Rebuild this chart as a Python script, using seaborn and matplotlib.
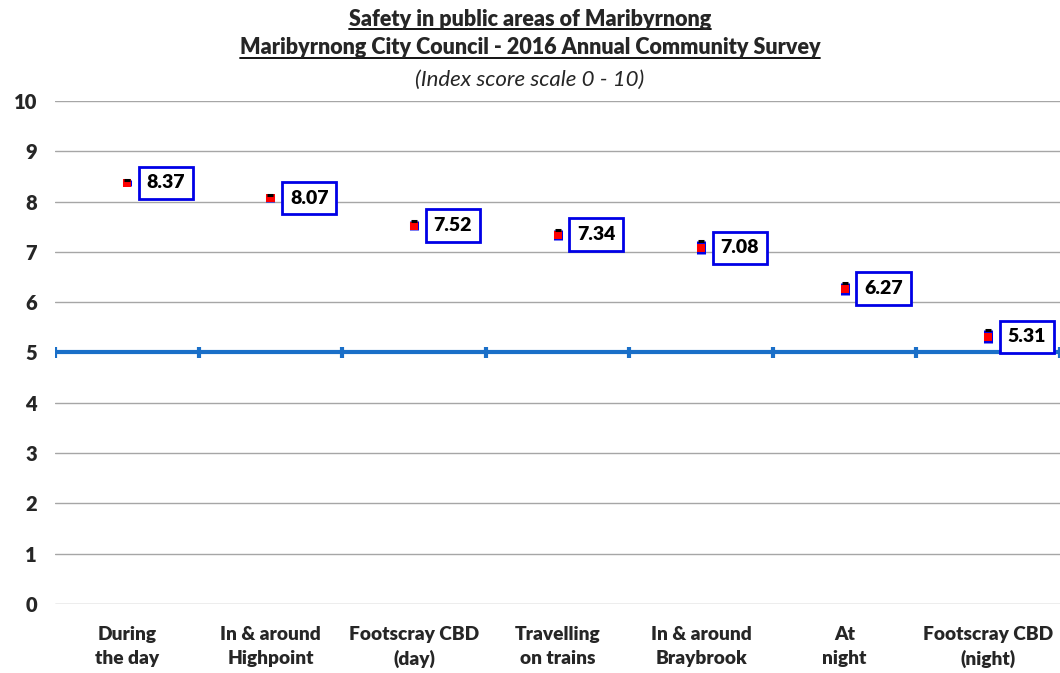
import numpy as np
import pandas as pd
import matplotlib
matplotlib.use("Agg")
import matplotlib.pyplot as plt
import seaborn as sns

# data
categories = ["During\nthe day", "In & around\nHighpoint", "Footscray CBD\n(day)",
              "Travelling\non trains", "In & around\nBraybrook", "At\nnight",
              "Footscray CBD\n(night)"]
scores = [8.37, 8.07, 7.52, 7.34, 7.08, 6.27, 5.31]
lower = [8.31, 8.00, 7.43, 7.24, 6.95, 6.15, 5.18]
upper = [8.43, 8.14, 7.62, 7.44, 7.22, 6.39, 5.45]
benchmark = 5

sns.set_theme(style="white")
plt.rcParams['font.family'] = ['Lato', 'DejaVu Sans']

df = pd.DataFrame({'cat': categories, 'score': scores, 'lo': lower, 'hi': upper})
df['x'] = np.arange(len(df))

fig = plt.figure(figsize=(10.6, 6.73), dpi=100)
ax = fig.add_axes([0.052, 0.1025, 0.948, 0.7475])

ax.set_xlim(-0.5, len(df) - 0.5)
ax.set_ylim(0, 10)
ax.set_yticks(range(0, 11))
ax.yaxis.grid(True, color='#a6a6a6', linewidth=1)
ax.set_axisbelow(True)
for s in ax.spines.values():
    s.set_visible(False)

# benchmark line with category separators
ax.axhline(benchmark, color='#1a6fc8', linewidth=3, zorder=2)
bounds = np.arange(len(df) + 1) - 0.5
ax.vlines(bounds, benchmark - 0.1, benchmark + 0.1, color='#1a6fc8', linewidth=3, zorder=2)

# confidence ranges
ax.vlines(df['x'], df['lo'], df['hi'], color='#0000e6', linewidth=6.5, zorder=3)
ax.scatter(df['x'], df['hi'], marker='_', color='black', s=14, linewidths=2.2, zorder=5)
sns.scatterplot(data=df, x='x', y='score', marker='s', color='#ff0000', s=34,
                edgecolor='none', ax=ax, zorder=4)

for _, r in df.iterrows():
    ax.annotate(f"{r['score']:.2f}", (r['x'], r['score']), xytext=(14, 0),
                textcoords='offset points', ha='left', va='center',
                fontsize=14, fontweight='heavy', color='black', zorder=6,
                bbox=dict(boxstyle='square,pad=0.4', fc='white', ec='#0000e6', lw=2))

ax.set_xticks(df['x'])
ax.set_xticklabels(categories, fontsize=13.8, fontweight='heavy', linespacing=1.45)
ax.tick_params(axis='x', length=0, pad=16)
ax.tick_params(axis='y', length=0, pad=13, labelsize=14.5)
for t in ax.get_yticklabels():
    t.set_fontweight('heavy')
ax.set_xlabel('')
ax.set_ylabel('')

# titles with underline
t1 = fig.text(0.5, 0.971, "Safety in public areas of Maribyrnong", ha='center', va='center',
              fontsize=15.5, fontweight='heavy')
t2 = fig.text(0.5, 0.929, "Maribyrnong City Council - 2016 Annual Community Survey", ha='center',
              va='center', fontsize=15.5, fontweight='heavy')
fig.text(0.5, 0.882, "(Index score scale 0 - 10)", ha='center', va='center',
         fontsize=16, style='italic')

fig.canvas.draw()
r = fig.canvas.get_renderer()
for t in (t1, t2):
    bb = t.get_window_extent(renderer=r).transformed(fig.transFigure.inverted())
    fig.add_artist(plt.Line2D([bb.x0, bb.x1], [bb.y0 + 0.001, bb.y0 + 0.001],
                              transform=fig.transFigure, color='black', linewidth=1.3))

plt.savefig('out.png', dpi=100)
